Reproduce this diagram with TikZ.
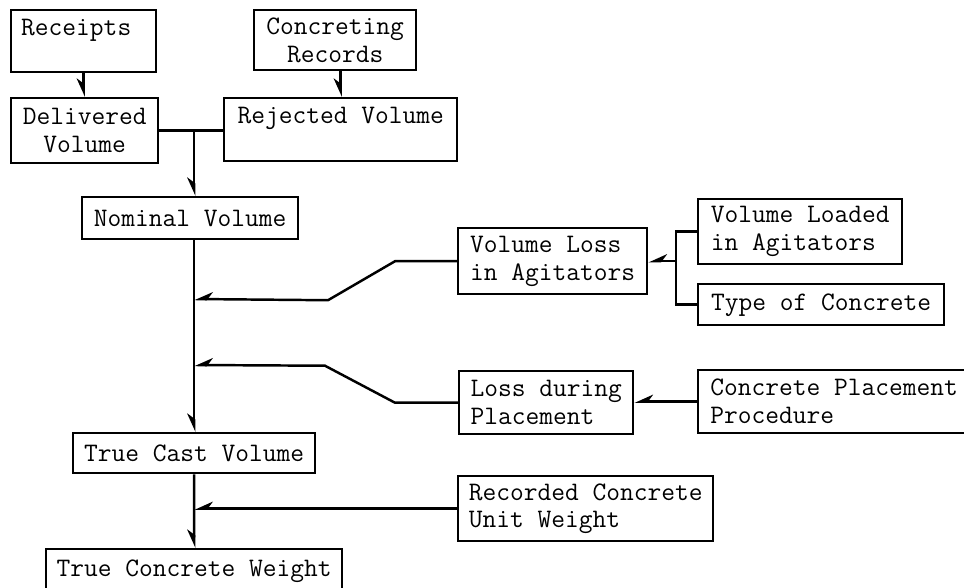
\documentclass[tikz,border=0pt]{standalone}
\usetikzlibrary{arrows.meta,calc}
\begin{document}
\begin{tikzpicture}[x=0.02cm,y=-0.02cm,line width=1.4pt,
  >={Stealth[harpoon,swap,length=9pt,width=8pt]},
  blk/.style 2 args={draw,anchor=north west,align=left,inner sep=0pt,
    minimum width=#1,minimum height=#2,font=\ttfamily\fontsize{15.2}{15.9}\selectfont}]
\useasboundingbox (0,0) rectangle (964,588);
% source records
\node[blk={2.90cm}{1.24cm},text width=2.5cm] (rec) at (10,9) {Receipts\\\mbox{}};
\node[blk={3.24cm}{1.20cm},align=center] (crec) at (253,9) {Concreting\\Records};
\node[blk={2.94cm}{1.30cm},align=center] (del) at (10,97) {Delivered\\Volume};
\node[blk={4.66cm}{1.26cm}] (rej) at (223,97) {Rejected Volume\\\mbox{}};
\node[blk={4.32cm}{0.84cm}] (nom) at (81,196) {Nominal Volume};
% losses
\node[blk={3.78cm}{1.32cm}] (vla) at (457,227) {Volume Loss\\in Agitators};
\node[blk={4.08cm}{1.30cm}] (vld) at (697,198) {Volume Loaded\\in Agitators};
\node[blk={4.92cm}{0.82cm}] (toc) at (697,283) {Type of Concrete};
\node[blk={3.48cm}{1.26cm}] (ldp) at (458,370) {Loss during\\Placement};
\node[blk={5.44cm}{1.26cm}] (cpp) at (697,369) {Concrete Placement\\Procedure};
% results
\node[blk={4.84cm}{0.80cm}] (tcv) at (72,432) {True Cast Volume};
\node[blk={5.10cm}{1.30cm}] (rcu) at (457,475) {Recorded Concrete\\Unit Weight};
\node[blk={5.92cm}{0.90cm}] (tcw) at (45,548) {True Concrete Weight};
% connectors
\draw[->] (rec.south) -- (rec.south |- del.north);
\draw[->] (rej.north |- crec.south) -- (rej.north);
\draw (del.east) -- (del.east -| rej.west);
\draw[->] (tcv.north |- del.east) -- (tcv.north |- nom.north);
\draw[->] (tcv.north |- nom.south) -- (tcv.north);
\draw[->] (tcv.south) -- (tcw.north);
\draw[->] (vla.west) -- ++(-62,0) -- ++(-67,39) -- (tcv.north |- 0,299);
\draw[->] (ldp.west) -- ++(-63,0) -- ++(-70,-37) -- (tcv.north |- 0,365);
\draw[->] (rcu.west) -- (tcv.north |- rcu.west);
\coordinate (brk) at ($(vld.west)+(-21,0)$);
\draw (vld.west) -- (brk) |- (toc.west);
\draw[->] (brk |- vla.east) -- (vla.east);
\draw[->] (cpp.west) -- (cpp.west -| ldp.east);
\end{tikzpicture}
\end{document}
